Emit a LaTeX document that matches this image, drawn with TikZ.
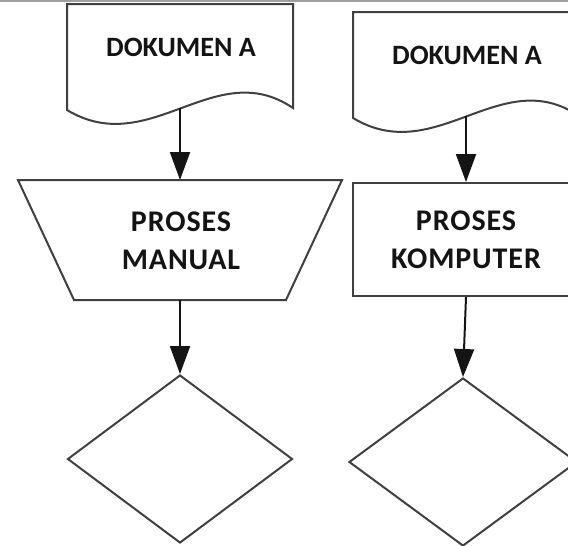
\documentclass[tikz,border=0pt]{standalone}
\usepackage{fontspec}
\setmainfont{Carlito}
\newfontfamily\trackedfont[LetterSpace=3]{Carlito}
\usetikzlibrary{arrows.meta,shapes.geometric}
\definecolor{edge}{HTML}{404040}
\definecolor{ink}{HTML}{141414}
\begin{document}
\begin{tikzpicture}[x=1pt,y=-1pt,
  outline/.style={draw=edge,line width=2pt,line join=miter},
  doclabel/.style={font=\fontsize{28}{38}\selectfont\bfseries,text=ink,align=center,inner sep=0pt},
  label/.style={font=\fontsize{30}{38}\selectfont\trackedfont\bfseries,text=ink,align=center,inner sep=0pt},
  flow/.style={draw=ink,line width=2pt,-{Triangle[width=20pt,length=28pt]}},
  decision/.style={outline,diamond,minimum width=225pt,minimum height=168pt,inner sep=0pt},
]
\useasboundingbox (0,0) rectangle (568,546);
% thin rule along the top edge
\draw[line width=2pt,color=gray!75] (0,1) -- (568,1);

% document shape, left column
\draw[outline] (67,110) -- (67,4) -- (293,4) -- (293,108)
  .. controls (215,55) and (150,160) .. (67,110) -- cycle;
\node[doclabel] (docA) at (181,47) {DOKUMEN A};
\coordinate (docAout) at (180,108);

% document shape, right column
\begin{scope}[shift={(286,8)}]
  \draw[outline] (67,110) -- (67,4) -- (293,4) -- (293,108)
    .. controls (215,55) and (150,160) .. (67,110) -- cycle;
  \node[doclabel] (docB) at (181,47) {DOKUMEN A};
  \coordinate (docBout) at (180,108);
\end{scope}

% manual operation (trapezoid)
\draw[outline] (18,180) -- (342,180) -- (286,300) -- (74,300) -- cycle;
\node[label] (manual) at (181,241) {PROSES\\MANUAL};
\coordinate (manTop) at (180,180);
\coordinate (manBot) at (180,300);

% computer process (rectangle)
\node[outline,label,minimum width=226pt,minimum height=113pt] (komp) at (466,239.5) {PROSES\\KOMPUTER};

% decisions
\node[decision] (decA) at (180,459) {};
\node[decision,minimum width=228pt] (decB) at (463,462) {};

% connectors
\draw[flow] (docAout) -- (manTop);
\draw[flow] (docBout) -- (komp.north);
\draw[flow] (manBot) -- (decA.north);
\draw[flow] (komp.south) -- (decB.north);
\end{tikzpicture}
\end{document}
